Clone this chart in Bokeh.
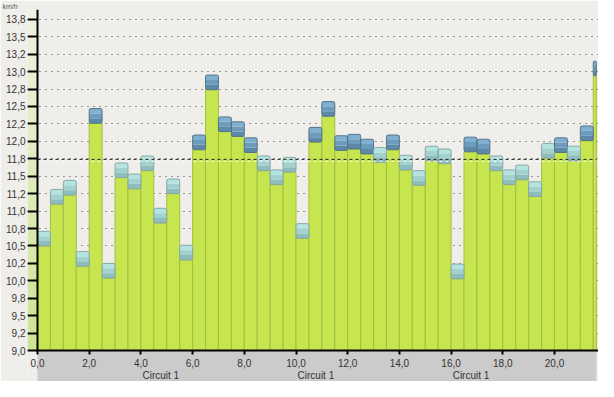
from bokeh.plotting import figure
from bokeh.models import Range1d, FixedTicker, LinearAxis
from bokeh.core.properties import value
from bokeh.embed import file_html
from bokeh.resources import INLINE

# ---------------- data ----------------
t_start = [0.0, 0.5, 1.0, 1.5, 2.0, 2.5, 3.0, 3.5, 4.0, 4.5, 5.0, 5.5, 6.0, 6.5, 7.0,
           7.5, 8.0, 8.5, 9.0, 9.5, 10.0, 10.5, 11.0, 11.5, 12.0, 12.5, 13.0, 13.5,
           14.0, 14.5, 15.0, 15.5, 16.0, 16.5, 17.0, 17.5, 18.0, 18.5, 19.0, 19.5,
           20.0, 20.5, 21.0, 21.5]
t_end = [0.5, 1.0, 1.5, 2.0, 2.5, 3.0, 3.5, 4.0, 4.5, 5.0, 5.5, 6.0, 6.5, 7.0, 7.5,
         8.0, 8.5, 9.0, 9.5, 10.0, 10.5, 11.0, 11.5, 12.0, 12.5, 13.0, 13.5, 14.0,
         14.5, 15.0, 15.5, 16.0, 16.5, 17.0, 17.5, 18.0, 18.5, 19.0, 19.5, 20.0,
         20.5, 21.0, 21.5, 21.62]
speed = [10.71, 11.31, 11.44, 10.42, 12.47, 10.25, 11.69, 11.53, 11.79, 11.04, 11.46,
         10.51, 12.09, 12.95, 12.35, 12.28, 12.05, 11.79, 11.59, 11.77, 10.82, 12.20,
         12.57, 12.08, 12.10, 12.03, 11.91, 12.09, 11.80, 11.58, 11.93, 11.89, 10.24,
         12.06, 12.03, 11.79, 11.59, 11.66, 11.42, 11.97, 12.05, 11.93, 12.22, 13.15]

y_ticks = [9.0, 9.25, 9.5, 9.75, 10.0, 10.25, 10.5, 10.75, 11.0, 11.25, 11.5, 11.75,
           12.0, 12.25, 12.5, 12.75, 13.0, 13.25, 13.5, 13.75]
y_tick_labels = ["9,0", "9,2", "9,5", "9,8", "10,0", "10,2", "10,5", "10,8", "11,0",
                 "11,2", "11,5", "11,8", "12,0", "12,2", "12,5", "12,8", "13,0",
                 "13,2", "13,5", "13,8"]
x_ticks = [0, 2, 4, 6, 8, 10, 12, 14, 16, 18, 20]
x_tick_labels = ["0,0", "2,0", "4,0", "6,0", "8,0", "10,0", "12,0", "14,0", "16,0",
                 "18,0", "20,0"]
circuit_centers = [4.77, 10.77, 16.77]
circuit_labels = ["Circuit 1", "Circuit 1", "Circuit 1"]
unit_label = "km/h"

# ---------------- layout constants ----------------
W, H = 598, 381
BORDER_L, BORDER_T = 27, 7
X0, X1 = -0.3868, 21.702
Y0, Y1 = 8.5565, 13.89
BASE = 9.0
CAP = 0.21
PX_PER_Y = (H - 8) / (Y1 - Y0)
FONT = "Liberation Sans"
BG = "#efeeea"
TXT = "#333333"

p = figure(width=W, height=H, output_backend="svg", toolbar_location=None,
           x_range=Range1d(X0, X1), y_range=Range1d(Y0, Y1),
           min_border_left=BORDER_L, min_border_right=0,
           min_border_top=BORDER_T, min_border_bottom=0)
p.background_fill_color = BG
p.border_fill_color = BG
p.outline_line_color = None

# unit label as a tiny title at the top-left
p.title.text = unit_label
p.title.text_font = FONT
p.title.text_font_size = "7px"
p.title.text_font_style = "normal"
p.title.text_color = "#555555"
p.title.align = "left"
p.title.offset = -25
p.title.standoff = 0

# grid
p.xgrid.visible = False
p.ygrid.ticker = FixedTicker(ticks=y_ticks)
p.ygrid.grid_line_color = "#3a3a3a"
p.ygrid.grid_line_dash = "1 5"
p.ygrid.grid_line_width = 1

# left green strip (gradient) between labels and axis
n_steps = 24
c_bot = (0xcd, 0xe4, 0x93)
c_top = (0xf0, 0xf1, 0xe0)
sb, st, sc = [], [], []
for k in range(n_steps):
    f = k / (n_steps - 1)
    col = tuple(int(round(c_bot[j] + (c_top[j] - c_bot[j]) * f)) for j in range(3))
    sb.append(BASE + (Y1 - BASE) * k / n_steps)
    st.append(BASE + (Y1 - BASE) * (k + 1) / n_steps)
    sc.append("#%02x%02x%02x" % col)
p.quad(left=X0, right=0, bottom=sb, top=st, fill_color=sc, line_color=None)

# grey band under the axis
p.quad(left=[t_start[0]], right=[t_end[-1]], bottom=[Y0], top=[BASE],
       fill_color="#cbcbcb", line_color=None)

# bars (green body)
green_top = [v - CAP for v in speed]
p.quad(left=t_start, right=t_end, bottom=BASE, top=green_top,
       fill_color="#c6e54e", line_color="#a3bf3e", line_width=1)

# caps with a 3-step vertical gradient
dark = ["#5c89a6", "#6c9bbb", "#7fb0d0"]
teal = ["#8fbcbc", "#a2d2ce", "#b5e3df"]
cl, cr, cb, ct, cc, oc = [], [], [], [], [], []
for a, b, v in zip(t_start, t_end, speed):
    pal = dark if v >= 12.0 else teal
    for k in range(3):
        cl.append(a)
        cr.append(b)
        cb.append(v - CAP + CAP * k / 3)
        ct.append(v - CAP + CAP * (k + 1) / 3)
        cc.append(pal[k])
    oc.append("#557488" if v >= 12.0 else "#86a8a8")
p.quad(left=cl, right=cr, bottom=cb, top=ct, fill_color=cc, line_color=None)
p.quad(left=t_start, right=t_end, bottom=green_top, top=speed,
       fill_color=None, line_color=oc, line_width=1, border_radius=2)

# mean line (dark dashes with light shadow below)
mean_v = sum(speed) / len(speed)
p.segment(x0=[0], y0=[mean_v - 2 / PX_PER_Y], x1=[t_end[-1]], y1=[mean_v - 2 / PX_PER_Y],
          line_color="white", line_dash="3 3", line_width=1, line_alpha=0.9)
p.segment(x0=[0], y0=[mean_v], x1=[t_end[-1]], y1=[mean_v],
          line_color="#222222", line_dash="3 3", line_width=1)

# circuit labels in the band
lab_y = BASE - 25 / PX_PER_Y
p.text(x=circuit_centers, y=[lab_y] * len(circuit_centers), text=circuit_labels,
       text_font=value(FONT), text_font_size="10px", text_color=TXT,
       text_align="center", text_baseline="middle")

# y axis: labels only on the regular left axis
yl = p.yaxis[0]
yl.ticker = FixedTicker(ticks=y_ticks)
yl.major_label_overrides = dict(zip(y_ticks, y_tick_labels))
yl.axis_line_color = None
yl.major_tick_line_color = None
yl.minor_tick_line_color = None
yl.major_tick_out = 0
yl.major_tick_in = 0
yl.major_label_standoff = 2
yl.major_label_text_font = FONT
yl.major_label_text_font_size = "10px"
yl.major_label_text_color = TXT

# y axis line + ticks at x = 0
ya = LinearAxis(fixed_location=0, bounds=(BASE, Y1), ticker=FixedTicker(ticks=y_ticks),
                axis_line_width=2, axis_line_color="black",
                major_tick_line_width=2, major_tick_line_color="black",
                major_tick_out=10, major_tick_in=0, minor_tick_line_color=None,
                major_label_text_alpha=0, major_label_text_font_size="1px")
p.add_layout(ya, "left")

# x axis at y = 9.0
xax = p.xaxis[0]
xax.fixed_location = BASE
xax.bounds = (0, X1)
xax.ticker = FixedTicker(ticks=x_ticks)
xax.major_label_overrides = dict(zip(x_ticks, x_tick_labels))
xax.axis_line_width = 2
xax.axis_line_color = "black"
xax.major_tick_line_width = 2
xax.major_tick_line_color = "black"
xax.major_tick_out = 4
xax.major_tick_in = 0
xax.minor_tick_line_color = None
xax.major_label_standoff = 4
xax.major_label_text_font = FONT
xax.major_label_text_font_size = "10px"
xax.major_label_text_color = TXT

open("out.html", "w").write(file_html(p, INLINE))
